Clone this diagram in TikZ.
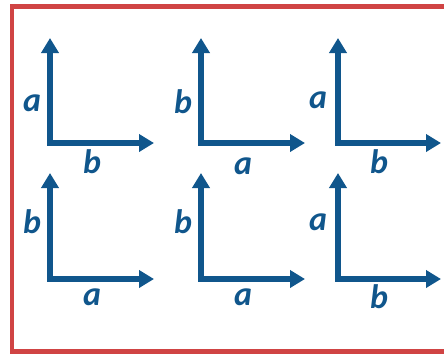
\documentclass[tikz,border=0pt]{standalone}
\usepackage{fontspec}
\setmainfont{Carlito}
\usetikzlibrary{arrows.meta}

\definecolor{axisblue}{RGB}{16,86,140}
\definecolor{frame}{RGB}{208,68,68}

\begin{document}
\begin{tikzpicture}[
x=1pt,y=-1pt,
axis/.style={
draw=axisblue,
line width=5.5pt,
{Triangle[length=15pt,width=17pt]}-{Triangle[length=15pt,width=17pt]}
},
lbl/.style={
text=axisblue,
font=\fontsize{34}{34}\selectfont\bfseries\itshape,
inner sep=0pt
}
]
\useasboundingbox (0,0) rectangle (444,354);
\clip (0,0) rectangle (444,354);

\draw[frame,line width=4.5pt] (12,6.5) rectangle (448,351.5);

% top row
\coordinate (Y1) at (50,38);  \coordinate (X1) at (154,143);
\coordinate (Y2) at (201,38); \coordinate (X2) at (305,143);
\coordinate (Y3) at (338,38); \coordinate (X3) at (441,143);

% bottom row
\coordinate (Y4) at (50,173);  \coordinate (X4) at (154,279);
\coordinate (Y5) at (201,173); \coordinate (X5) at (305,279);
\coordinate (Y6) at (338,173); \coordinate (X6) at (441,279);

\draw[axis] (Y1) |- (X1);
\draw[axis] (Y2) |- (X2);
\draw[axis] (Y3) |- (X3);
\draw[axis] (Y4) |- (X4);
\draw[axis] (Y5) |- (X5);
\draw[axis] (Y6) |- (X6);

\node[lbl] (L1) at (32,103) {a};
\node[lbl] (B1) at (92,162) {b};
\node[lbl] (L2) at (183,102) {b};
\node[lbl] (B2) at (243,166) {a};
\node[lbl] (L3) at (318,100) {a};
\node[lbl] (B3) at (379,162) {b};

\node[lbl] (L4) at (32,222) {b};
\node[lbl] (B4) at (92,297) {a};
\node[lbl] (L5) at (183,222) {b};
\node[lbl] (B5) at (243,297) {a};
\node[lbl] (L6) at (318,222) {a};
\node[lbl] (B6) at (379,297) {b};

\end{tikzpicture}
\end{document}
